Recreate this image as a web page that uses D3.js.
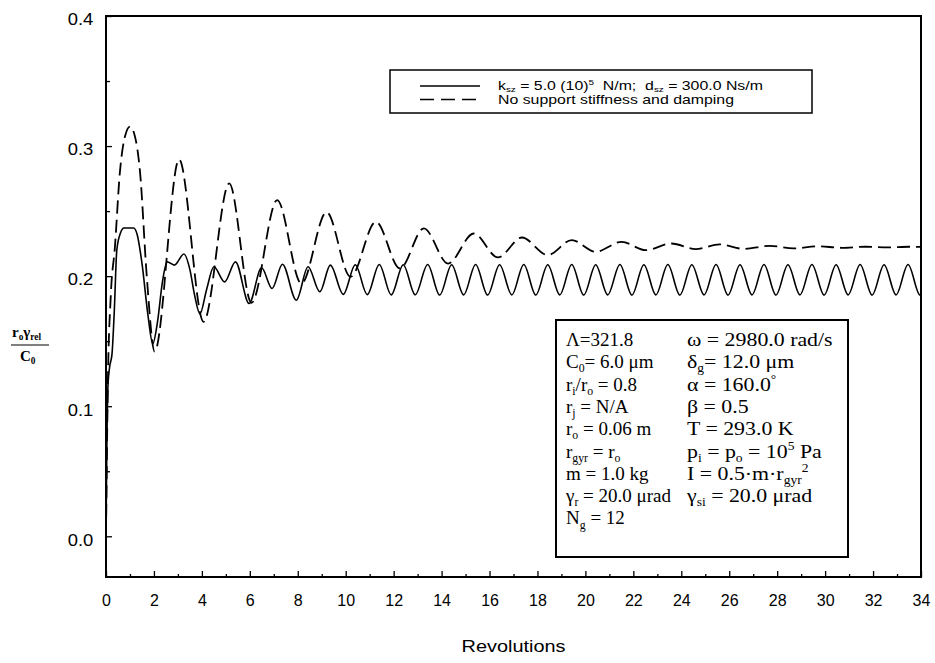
<!DOCTYPE html>
<html><head><meta charset="utf-8">
<script src="https://cdn.jsdelivr.net/npm/d3@7/dist/d3.min.js"></script>
<style>
html,body{margin:0;padding:0;background:#fff;}
text{white-space:pre;}
</style></head>
<body><svg id="chart" width="935" height="663"></svg>
<script>
// ---------- data ----------
const xTickValues = [0,2,4,6,8,10,12,14,16,18,20,22,24,26,28,30,32,34];
const xMinorTicks = [1,3,5,7,9,11,13,15,17,19,21,23,25,27,29,31,33];
const yTickValues = [0.0,0.1,0.2,0.3,0.4];
const yMinorTicks = [0.05,0.15,0.25,0.35];

// solid: k_sz = 5.0(10)^5 N/m; d_sz = 300 Ns/m
const solidRev = [0,0.03,0.08,0.15,0.25,0.35,0.45,0.6,0.75,1.15,1.3,1.5,1.75,1.95,2.15,2.35,2.55,2.85,3.25,3.5,3.7,3.92,4.2,4.5,4.95,5.4,5.97,6.49,6.93,7.36,7.94,8.43,8.92,9.36,9.9,10.4,10.9,11.4,11.9,12.4,12.9,13.42,13.92,14.42,14.92,15.42,15.92,16.42,16.93,17.43,17.93,18.43,18.93,19.43,19.93,20.43,20.93,21.44,21.94,22.44,22.94,23.44,23.94,24.44,24.95,25.45,25.95,26.45,26.95,27.45,27.95,28.45,28.95,29.45,29.96,30.46,30.96,31.46,31.96,32.46,32.96,33.46,33.96,34];
const solidVal = [0.0,0.06,0.115,0.13,0.14,0.175,0.22,0.233,0.237,0.237,0.232,0.21,0.17,0.148,0.165,0.195,0.211,0.2085,0.217,0.205,0.185,0.171,0.19,0.2072,0.1956,0.211,0.179,0.2064,0.1905,0.2092,0.1815,0.2072,0.188,0.2085,0.186,0.2088,0.1858,0.209,0.1856,0.2088,0.1857,0.209,0.1855,0.2088,0.1856,0.209,0.1855,0.2088,0.1856,0.209,0.1855,0.2088,0.1856,0.209,0.1855,0.2088,0.1856,0.209,0.1855,0.2088,0.1856,0.209,0.1855,0.2088,0.1856,0.209,0.1855,0.2088,0.1856,0.209,0.1855,0.2088,0.1856,0.209,0.1855,0.2088,0.1856,0.209,0.1855,0.2088,0.1856,0.209,0.1855,0.1856];

// dashed: no support stiffness and damping
const dashRev = [0,0.08,0.2,0.37,0.58,0.8,1.0,1.2,1.42,1.7,2.03,3.05,4.07,5.14,6.07,7.14,8.15,9.2,10.2,11.26,12.26,13.26,14.27,15.34,16.35,17.35,18.43,19.43,20.43,21.51,22.51,23.59,24.6,25.6,26.6,27.68,28.68,29.68,30.68,31.68,32.6,33.5,34];
const dashVal = [0.0,0.12,0.185,0.222,0.28,0.308,0.315,0.308,0.28,0.2,0.142,0.2897,0.1649,0.2713,0.1795,0.2585,0.1944,0.2492,0.1995,0.2418,0.2059,0.2367,0.2097,0.2328,0.2144,0.2297,0.2162,0.2277,0.2187,0.2264,0.22,0.2251,0.2208,0.2244,0.221,0.2233,0.2213,0.223,0.2218,0.2226,0.2221,0.2226,0.2225];

const legendLabels = [
  [["k","n"],["sz","sub"],[" = 5.0 (10)","n"],["5","sup"],["  N/m;  d","n"],["sz","sub"],[" = 300.0 Ns/m","n"]],
  [["No support stiffness and damping","n"]]
];
const paramLeft = [
  [["\u039B=321.8","n"]],
  [["C","n"],["0","sub"],["= 6.0 \u03BCm","n"]],
  [["r","n"],["i","sub"],["/r","n"],["o","sub"],[" = 0.8","n"]],
  [["r","n"],["j","sub"],[" = N/A","n"]],
  [["r","n"],["o","sub"],[" = 0.06 m","n"]],
  [["r","n"],["gyr","sub"],[" = r","n"],["o","sub"]],
  [["m = 1.0 kg","n"]],
  [["\u03B3","n"],["r","sub"],[" = 20.0 \u03BCrad","n"]],
  [["N","n"],["g","sub"],[" = 12","n"]]
];
const paramRight = [
  [["\u03C9 = 2980.0 rad/s","n"]],
  [["\u03B4","n"],["g","sub"],["= 12.0 \u03BCm","n"]],
  [["\u03B1 = 160.0","n"],["\u00B0","sup"]],
  [["\u03B2 = 0.5","n"]],
  [["T = 293.0 K","n"]],
  [["p","n"],["i","sub"],[" = p","n"],["o","sub"],[" = 10","n"],["5","sup"],[" Pa","n"]],
  [["I = 0.5\u00B7m\u00B7r","n"],["gyr","sub"],["2","sup"]],
  [["\u03B3","n"],["si","sub"],[" = 20.0 \u03BCrad","n"]]
];
const xTitle = "Revolutions";

// ---------- drawing ----------
const svg = d3.select("#chart");
const X0 = 106, X1 = 921, Y0 = 577, Y1 = 16;
const x = d3.scaleLinear().domain([0,34]).range([X0,X1]);
const y = d3.scaleLinear().domain([-0.0313,0.4]).range([Y0,Y1]);
const sans = "'Liberation Sans', Arial, sans-serif";
const serif = "'Liberation Serif', 'Times New Roman', serif";

function rich(sel, segs, size, subK){
  let cur = 0;
  const sk = subK || 0.22;
  segs.forEach(([t,k])=>{
    const target = k==="sub" ? sk*size : k==="sup" ? -0.42*size : 0;
    sel.append("tspan").attr("dy", target-cur)
      .style("font-size", (k==="n"?size:size*0.62)+"px").text(t);
    cur = target;
  });
}
function stext(parent, px, py, sx){
  return parent.append("text").attr("x",0).attr("y",0)
    .attr("transform",`translate(${px},${py}) scale(${sx},1)`);
}

// curves
const solidData = solidRev.map((r,i)=>[r,solidVal[i]]);
const dashData = dashRev.map((r,i)=>[r,dashVal[i]]);
const line = d3.line().x(d=>x(d[0])).y(d=>y(d[1])).curve(d3.curveMonotoneX);
svg.append("clipPath").attr("id","pc").append("rect")
  .attr("x",X0).attr("y",Y1).attr("width",X1-X0).attr("height",Y0-Y1);
svg.append("path").datum(dashData).attr("d",line).attr("clip-path","url(#pc)")
  .attr("fill","none").attr("stroke","#000").attr("stroke-width",1.8)
  .attr("stroke-dasharray","13,6");
svg.append("path").datum(solidData).attr("d",line).attr("clip-path","url(#pc)")
  .attr("fill","none").attr("stroke","#000").attr("stroke-width",1.6);

// axes
const xAxis = svg.append("g").attr("transform",`translate(0,${Y0})`)
  .call(d3.axisBottom(x).tickValues(xTickValues).tickSize(-6).tickPadding(18).tickFormat(d3.format("d")));
const xMinor = svg.append("g").attr("transform",`translate(0,${Y0})`)
  .call(d3.axisBottom(x).tickValues(xMinorTicks).tickSize(-3).tickFormat(""));
const yAxis = svg.append("g").attr("transform",`translate(${X0},0)`)
  .call(d3.axisLeft(y).tickValues(yTickValues).tickSize(-6).tickPadding(11).tickFormat(d3.format(".1f")));
const yMinor = svg.append("g").attr("transform",`translate(${X0},0)`)
  .call(d3.axisLeft(y).tickValues(yMinorTicks).tickSize(-4).tickFormat(""));
[xAxis,xMinor,yAxis,yMinor].forEach(g=>{
  g.select(".domain").remove();
  g.selectAll(".tick line").attr("stroke","#000").attr("stroke-width",1.3);
  g.selectAll("text").attr("fill","#000").style("font-family",sans).style("font-size","16px");
});
yAxis.selectAll("text").attr("dy","0.55em").attr("transform","scale(1.15,1)");

// frame
svg.append("rect").attr("x",X0).attr("y",Y1).attr("width",X1-X0).attr("height",Y0-Y1)
  .attr("fill","none").attr("stroke","#000").attr("stroke-width",2);

// x title
stext(svg,(X0+X1)/2,652,1.17).attr("text-anchor","middle")
  .style("font-family",sans).style("font-size","17px").text(xTitle);

// y title (fraction)
const yt = svg.append("g").style("font-family",serif).style("font-weight","bold").attr("fill","#000");
rich(yt.append("text").attr("x",12).attr("y",337), [["r","n"],["o","sub"],["\u03B3","n"],["rel","sub"]], 15);
yt.append("line").attr("x1",11).attr("x2",49).attr("y1",345).attr("y2",345).attr("stroke","#000").attr("stroke-width",1.2);
rich(yt.append("text").attr("x",20).attr("y",361), [["C","n"],["0","sub"]], 15);

// legend
const lg = svg.append("g");
lg.append("rect").attr("x",390).attr("y",70).attr("width",422).attr("height",43)
  .attr("fill","#fff").attr("stroke","#000").attr("stroke-width",1.5);
[0,1].forEach(i=>{
  const yy = 86 + i*13.5;
  lg.append("line").attr("x1",420).attr("x2",480).attr("y1",yy).attr("y2",yy)
    .attr("stroke","#000").attr("stroke-width",1.6)
    .attr("stroke-dasharray", i===1 ? "14,7" : null);
  rich(stext(lg,498,yy+4,1.22).style("font-family",sans).attr("fill","#000"), legendLabels[i], 13, 0.18);
});

// parameter box
const pb = svg.append("g").style("font-family",serif).attr("fill","#000");
pb.append("rect").attr("x",556).attr("y",320).attr("width",292).attr("height",237)
  .attr("fill","#fff").attr("stroke","#000").attr("stroke-width",2);
paramLeft.forEach((segs,i)=>{
  rich(stext(pb,566,346+i*22.3,1.0), segs, 19);
});
paramRight.forEach((segs,i)=>{
  rich(stext(pb,687,346+i*22.3,1.15), segs, 19);
});
</script></body></html>
